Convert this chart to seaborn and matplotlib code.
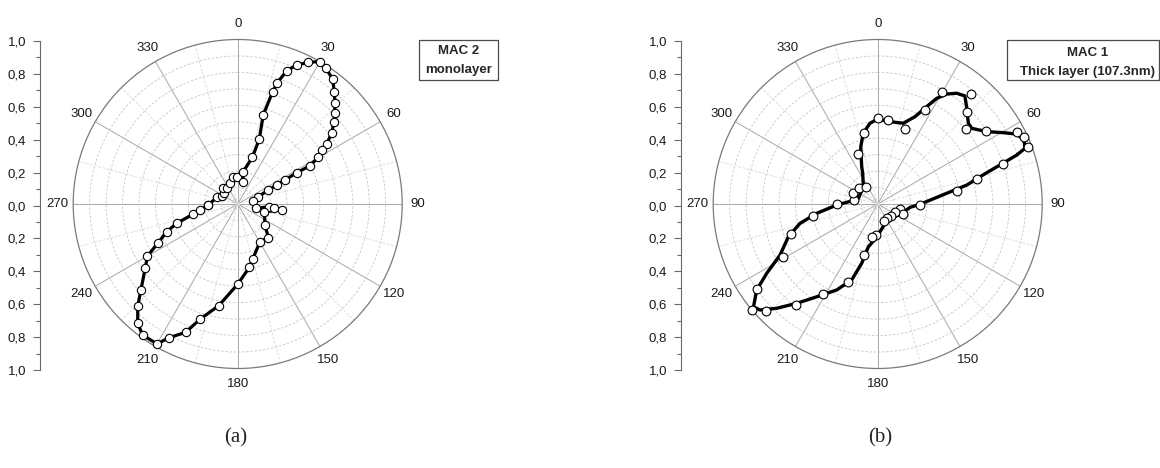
import numpy as np
import matplotlib
matplotlib.use("Agg")
import matplotlib.pyplot as plt
import seaborn as sns
from matplotlib.patches import Rectangle

sns.set_style("white")
plt.rcParams['font.family'] = ['Liberation Sans', 'DejaVu Sans']

# ---------------- data ----------------
# (a) MAC 2 monolayer : measured points, joined in measurement order
mac2_angle = [268.0, 287.7, 296.6, 308.0, 317.5, 326.0, 339.6, 350.8, 358.0, 12.6, 9.8, 17.4,
              18.4, 16.0, 17.3, 18.1, 20.2, 23.0, 26.5, 30.0, 33.1, 37.3, 40.7, 43.8, 46.9,
              49.5, 53.0, 56.0, 57.3, 59.9, 62.1, 62.1, 63.1, 64.0, 65.5, 70.5, 77.6, 103.4,
              94.9, 95.7, 97.8, 106.0, 127.6, 137.7, 149.4, 164.7, 169.5, 180.0, 190.6, 198.1,
              202.1, 207.2, 210.0, 216.0, 220.0, 224.4, 228.4, 235.4, 240.0, 243.8, 248.7,
              252.4, 257.3, 261.0, 268.0]
mac2_r = [0.178, 0.134, 0.109, 0.106, 0.13, 0.12, 0.134, 0.168, 0.166, 0.139, 0.2, 0.297,
          0.416, 0.563, 0.715, 0.776, 0.863, 0.918, 0.962, 1.0, 0.984, 0.953, 0.9, 0.854, 0.807,
          0.77, 0.715, 0.652, 0.607, 0.566, 0.497, 0.406, 0.322, 0.264, 0.205, 0.133, 0.093, 0.112,
          0.193, 0.224, 0.27, 0.169, 0.209, 0.277, 0.266, 0.347, 0.391, 0.488, 0.629, 0.737,
          0.842, 0.914, 0.982, 0.984, 0.946, 0.868, 0.787, 0.682, 0.634, 0.542, 0.463,
          0.389, 0.276, 0.232, 0.178]

# (b) MAC 1 thick layer : measured points
mac1_angle = [0.0, 7.2, 20.1, 26.7, 29.8, 40.2, 44.1, 49.7, 56.0, 62.7, 65.3, 69.3, 72.4, 76.0,
              80.7, 91.4, 102.0, 111.3, 115.6, 131.0, 147.0, 160.0, 183.0, 189.0, 195.4, 201.0,
              211.1, 219.1, 226.2, 230.1, 234.9, 240.5, 250.9, 259.4, 270.0, 280.0, 293.8,
              310.0, 325.0, 338.7, 349.3]
mac1_r = [0.521, 0.515, 0.488, 0.64, 0.782, 0.876, 0.782, 0.702, 0.792, 0.951, 0.979, 0.975,
          0.797, 0.62, 0.487, 0.257, 0.14, 0.168, 0.117, 0.108, 0.101, 0.112, 0.189, 0.205,
          0.321, 0.51, 0.639, 0.791, 0.94, 1.0, 0.899, 0.659, 0.558, 0.398, 0.245, 0.144,
          0.161, 0.148, 0.124, 0.324, 0.437]

# (b) smooth fitted curve, read along its path
mac1_fit_angle = [268.6, 277.6, 286.4, 320.4, 334.0, 336.8, 343.5, 348.5, 354.5, 0.0, 8.5, 17.6,
                  23.1, 26.7, 29.2, 32.1, 35.5, 38.9, 42.4, 48.3, 51.2, 56.4, 60.4, 63.3, 66.4,
                  69.3, 70.6, 72.0, 74.0, 78.0, 81.2, 90.4, 95.9, 111.0, 151.6, 171.0, 181.7,
                  192.3, 195.1, 198.9, 205.5, 213.3, 219.2, 224.1, 228.0, 230.4, 234.6, 238.0,
                  242.4, 249.9, 256.0, 261.3, 268.6]
mac1_fit_r = [0.249, 0.153, 0.122, 0.137, 0.208, 0.247, 0.363, 0.439, 0.493, 0.517, 0.506, 0.515,
              0.577, 0.662, 0.736, 0.789, 0.827, 0.844, 0.801, 0.738, 0.734, 0.795, 0.878, 0.946,
              0.971, 0.957, 0.896, 0.799, 0.689, 0.553, 0.424, 0.257, 0.198, 0.157, 0.115, 0.154,
              0.203, 0.266, 0.373, 0.488, 0.579, 0.675, 0.779, 0.883, 0.963, 0.98, 0.902, 0.796,
              0.67, 0.578, 0.487, 0.375, 0.249]

theta_ticks = [0, 30, 60, 90, 120, 150, 180, 210, 240, 270, 300, 330]
theta_labels = ['0', '30', '60', '90', '120', '150', '180', '210', '240', '270', '300', '330']
r_ticks = [1.0, 0.8, 0.6, 0.4, 0.2, 0.0, -0.2, -0.4, -0.6, -0.8, -1.0]
r_tick_labels = ['1,0', '0,8', '0,6', '0,4', '0,2', '0,0', '0,2', '0,4', '0,6', '0,8', '1,0']
legend_a = ['MAC 2', 'monolayer']
legend_b = ['MAC 1', 'Thick layer (107.3nm)']
captions = ['(a)', '(b)']

# ---------------- figure ----------------
W, H = 1160, 468
fig = plt.figure(figsize=(W / 100, H / 100), dpi=100, facecolor='white')

R = 164.5
centers = [(237.7, 204.0), (877.7, 204.0)]
axis_x = [40.0, 681.0]


def fx(px):
    return px / W


def fy(py):
    return 1 - py / H


def make_polar(cx, cy):
    ax = fig.add_axes([fx(cx - R), fy(cy + R), 2 * R / W, 2 * R / H], projection='polar')
    ax.set_facecolor('white')
    return ax


def style_polar(ax):
    ax.set_theta_zero_location('N')
    ax.set_theta_direction(-1)
    ax.set_xticks(np.deg2rad(theta_ticks))
    ax.set_xticklabels([])
    ax.set_xticks(np.deg2rad(np.arange(15, 360, 30)), minor=True)
    ax.set_yticks(np.arange(0.1, 1.0, 0.1))
    ax.set_yticklabels([])
    ax.set_ylim(0, 1)
    ax.xaxis.grid(True, which='major', color='#a8a8a8', lw=0.7, ls='-')
    ax.xaxis.grid(True, which='minor', color='#d8d8d8', lw=0.6, ls=(0, (3, 2)))
    ax.yaxis.grid(True, color='#c6c6c6', lw=0.6, ls=(0, (3, 2)))
    ax.tick_params(length=0, which='both')
    ax.spines['polar'].set_color('#7a7a7a')
    ax.spines['polar'].set_linewidth(0.9)
    ax.set_xlabel('')
    ax.set_ylabel('')
    for a, lab in zip(theta_ticks, theta_labels):
        ax.text(np.deg2rad(a), 1.097, lab, ha='center', va='center', fontsize=9.5,
                color='#1a1a1a', clip_on=False)


def make_vaxis(x):
    vax = fig.add_axes([fx(x), fy(370), 0.0005, 329 / H])
    vax.set_facecolor('none')
    vax.set_ylim(-1, 1)
    vax.set_yticks(r_ticks)
    vax.set_yticklabels(r_tick_labels)
    vax.set_yticks(np.arange(-0.9, 1.0, 0.2), minor=True)
    vax.set_xticks([])
    for s in ['top', 'right', 'bottom']:
        vax.spines[s].set_visible(False)
    vax.spines['left'].set_color('#6a6a6a')
    vax.spines['left'].set_linewidth(0.8)
    vax.tick_params(axis='y', which='major', length=5, width=0.8, color='#6a6a6a',
                    labelsize=9.5, labelcolor='#1a1a1a', pad=5, left=True)
    vax.tick_params(axis='y', which='minor', length=3, width=0.8, color='#6a6a6a', left=True)


# ---- panel (a)
ax1 = make_polar(*centers[0])
t1 = np.unwrap(np.deg2rad(mac2_angle))
sns.lineplot(x=t1, y=mac2_r, sort=False, estimator=None, ax=ax1, color='black', lw=2.3,
             marker='o', markersize=6.0, markerfacecolor='white', markeredgecolor='black',
             markeredgewidth=0.8, zorder=5, clip_on=False)
style_polar(ax1)
make_vaxis(axis_x[0])

# ---- panel (b)
ax2 = make_polar(*centers[1])
t2 = np.unwrap(np.deg2rad(mac1_fit_angle))
sns.lineplot(x=t2, y=mac1_fit_r, sort=False, estimator=None, ax=ax2, color='black', lw=2.4,
             zorder=4)
sns.scatterplot(x=np.deg2rad(mac1_angle), y=mac1_r, ax=ax2, s=40, color='white',
                edgecolor='black', linewidth=0.8, zorder=6, clip_on=False)
style_polar(ax2)
make_vaxis(axis_x[1])

# ---- legend boxes
fig.add_artist(Rectangle((fx(419.3), fy(79.5)), (498 - 419.3) / W, 39.5 / H,
                         transform=fig.transFigure, facecolor='white', edgecolor='#4a4a4a',
                         lw=0.9, zorder=10))
fig.text(fx(458.6), fy(51), legend_a[0], ha='center', va='center', fontsize=9.5,
         fontweight='bold', zorder=11)
fig.text(fx(458.6), fy(69.5), legend_a[1], ha='center', va='center', fontsize=9.5,
         fontweight='bold', zorder=11)

fig.add_artist(Rectangle((fx(1006.8), fy(80)), (1159 - 1006.8) / W, 40 / H,
                         transform=fig.transFigure, facecolor='white', edgecolor='#4a4a4a',
                         lw=0.9, zorder=10))
fig.text(fx(1088), fy(52.5), legend_b[0], ha='center', va='center', fontsize=9.5,
         fontweight='bold', zorder=11)
fig.text(fx(1088), fy(71.5), legend_b[1], ha='center', va='center', fontsize=9.5,
         fontweight='bold', zorder=11)

# ---- captions
for cxp, cap in zip([236, 880], captions):
    fig.text(fx(cxp), fy(438), cap, ha='center', va='center', fontsize=15,
             family=['Liberation Serif', 'DejaVu Serif'])

fig.savefig('out.png', dpi=100, facecolor='white')
